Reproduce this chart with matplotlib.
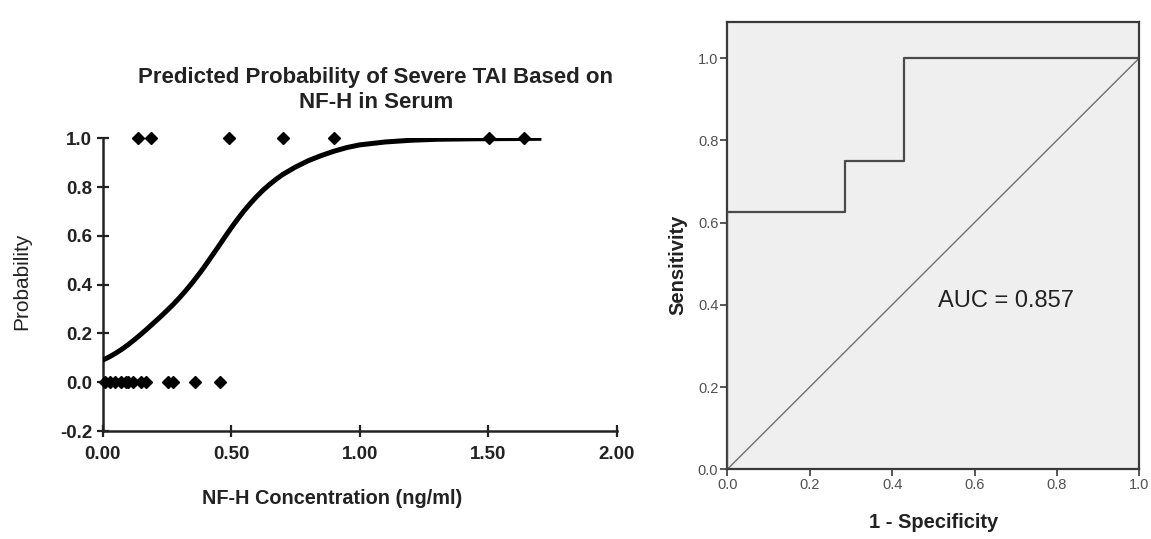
import matplotlib
matplotlib.use("Agg")
import matplotlib.pyplot as plt

plt.rcParams['font.family'] = ['Liberation Sans', 'DejaVu Sans']

# ---- Left panel data ----
nfh_severe = [0.137, 0.189, 0.490, 0.700, 0.902, 1.504, 1.641]
nfh_nonsevere = [0.01, 0.03, 0.05, 0.07, 0.09, 0.10, 0.12, 0.15, 0.17, 0.255, 0.275, 0.36, 0.457]
curve_x = [0.0, 0.025, 0.05, 0.075, 0.1, 0.125, 0.15, 0.175, 0.2, 0.225, 0.25, 0.275, 0.3,
           0.325, 0.35, 0.375, 0.4, 0.425, 0.45, 0.475, 0.5, 0.525, 0.55, 0.575, 0.6, 0.625,
           0.65, 0.675, 0.7, 0.75, 0.8, 0.85, 0.9, 0.95, 1.0, 1.1, 1.2, 1.3, 1.45, 1.6, 1.707]
curve_y = [0.090, 0.103, 0.118, 0.135, 0.154, 0.175, 0.197, 0.220, 0.244, 0.268, 0.293, 0.319, 0.347,
           0.377, 0.409, 0.443, 0.479, 0.517, 0.555, 0.594, 0.632, 0.668, 0.702, 0.733, 0.762, 0.788,
           0.811, 0.832, 0.851, 0.882, 0.908, 0.929, 0.947, 0.962, 0.973, 0.985, 0.992, 0.996, 0.998,
           0.999, 1.0]
left_xticks = [0.0, 0.5, 1.0, 1.5, 2.0]
left_xticklabels = ['0.00', '0.50', '1.00', '1.50', '2.00']
left_yticks = [-0.2, 0.0, 0.2, 0.4, 0.6, 0.8, 1.0]
left_yticklabels = ['-0.2', '0.0', '0.2', '0.4', '0.6', '0.8', '1.0']

# ---- Right panel data ----
roc_fpr = [0.0, 0.0, 0.286, 0.286, 0.429, 0.429, 1.0]
roc_tpr = [0.0, 0.625, 0.625, 0.75, 0.75, 1.0, 1.0]
ref_line = [0.0, 1.0]
right_ticks = [0.0, 0.2, 0.4, 0.6, 0.8, 1.0]
right_ticklabels = ['0.0', '0.2', '0.4', '0.6', '0.8', '1.0']
auc_text = 'AUC = 0.857'

W, H = 1151, 539
fig = plt.figure(figsize=(W / 100, H / 100), dpi=100)

def fx(px):
    return px / W

def fy(py):
    return 1 - py / H

# Left axes
axL = fig.add_axes([fx(102.5), fy(431), fx(616.8) - fx(102.5), fy(138.3) - fy(431)])
axL.plot(curve_x, curve_y, color='black', lw=3.6, solid_capstyle='butt',
         solid_joinstyle='round', zorder=3)
axL.plot(nfh_severe, [1.0] * len(nfh_severe), linestyle='none', marker='D', ms=6.5,
         color='black', clip_on=False, zorder=4)
axL.plot(nfh_nonsevere, [0.0] * len(nfh_nonsevere), linestyle='none', marker='D', ms=6.5,
         color='black', clip_on=False, zorder=4)
axL.set_xlim(0, 2.0)
axL.set_ylim(-0.2, 1.0)
for s in ['top', 'right']:
    axL.spines[s].set_visible(False)
for s in ['left', 'bottom']:
    axL.spines[s].set_linewidth(1.8)
    axL.spines[s].set_color('#222222')
axL.set_xticks(left_xticks)
axL.set_xticklabels(left_xticklabels, fontweight='bold', fontsize=13.5, color='#222222')
axL.set_yticks(left_yticks)
axL.set_yticklabels(left_yticklabels, fontweight='bold', fontsize=13.5, color='#222222')
axL.tick_params(axis='x', direction='inout', length=9, width=1.6, color='#222222', pad=6)
axL.tick_params(axis='y', direction='inout', length=9, width=1.6, color='#222222', pad=3)
axL.patch.set_visible(False)

fig.text(fx(376), fy(78), 'Predicted Probability of Severe TAI Based on',
         ha='center', va='center', fontsize=16, fontweight='bold', color='#222222')
fig.text(fx(376), fy(103), 'NF-H in Serum',
         ha='center', va='center', fontsize=16, fontweight='bold', color='#222222')
fig.text(fx(332), fy(498), 'NF-H Concentration (ng/ml)',
         ha='center', va='center', fontsize=14.3, fontweight='bold', color='#222222')
fig.text(fx(22), fy(281), 'Probability', rotation=90,
         ha='center', va='center', fontsize=15, color='#222222')

# Right axes
axR = fig.add_axes([fx(727.3), fy(469.3), fx(1139.3) - fx(727.3), fy(22.3) - fy(469.3)])
axR.set_facecolor('#efefef')
axR.plot(roc_fpr, roc_tpr, color='#4a4a4a', lw=1.6, zorder=3)
axR.plot(ref_line, ref_line, color='#707070', lw=1.0, zorder=2)
axR.set_xlim(0, 1.0)
axR.set_ylim(0, 1.087)
for s in axR.spines.values():
    s.set_linewidth(1.6)
    s.set_color('#3a3a3a')
axR.set_xticks(right_ticks)
axR.set_xticklabels(right_ticklabels, fontsize=10.5, color='#505050')
axR.set_yticks(right_ticks)
axR.set_yticklabels(right_ticklabels, fontsize=10.5, color='#505050')
axR.tick_params(direction='out', length=5, width=1.2, color='#3a3a3a', pad=1.5)
axR.text(0.512, 0.41, auc_text, ha='left', va='center', fontsize=17, color='#222222')

fig.text(fx(934), fy(523), '1 - Specificity', ha='center', va='center',
         fontsize=14.5, fontweight='bold', color='#222222')
fig.text(fx(678), fy(265), 'Sensitivity', rotation=90, ha='center', va='center',
         fontsize=14.5, fontweight='bold', color='#222222')

fig.savefig('out.png', dpi=100, facecolor='white')
